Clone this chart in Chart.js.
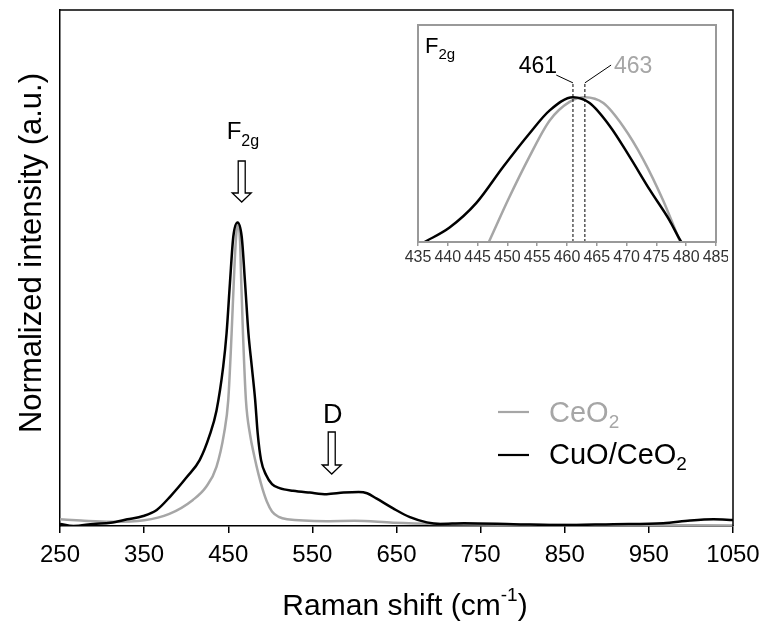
<!DOCTYPE html>
<html>
<head>
<meta charset="utf-8">
<script src="https://cdn.jsdelivr.net/npm/chart.js@4.4.0/dist/chart.umd.min.js"></script>
<style>
  body { margin: 0; background: #fff; }
  #wrap { position: relative; width: 762px; height: 621px; }
  #main { position: absolute; left: 0; top: 0; }
  #inset { position: absolute; left: 398px; top: 15px; }
</style>
</head>
<body>
<div id="wrap">
  <canvas id="main" width="762" height="621"></canvas>
  <canvas id="inset" width="330" height="260"></canvas>
</div>
<script>
const FONT = '"Liberation Sans", Arial, sans-serif';
const GREY = '#a6a6a6';

// full spectra, Raman shift (cm-1) vs normalized intensity
const shiftCuO = [250, 266, 290, 310, 330, 349, 365, 381, 401, 416, 428, 436, 444, 448, 452, 456, 461, 466, 470, 474, 478, 482, 485, 489, 495, 502, 511, 527, 547, 567, 587, 605, 615, 626, 646, 666, 686, 702, 730, 789, 848, 908, 967, 999, 1027, 1050];
const intCuO   = [0.007, 0.0, 0.007, 0.011, 0.022, 0.033, 0.053, 0.097, 0.162, 0.217, 0.30, 0.38, 0.525, 0.635, 0.80, 0.953, 1.0, 0.953, 0.80, 0.635, 0.525, 0.415, 0.305, 0.217, 0.168, 0.138, 0.125, 0.116, 0.11, 0.105, 0.11, 0.112, 0.108, 0.091, 0.058, 0.029, 0.012, 0.007, 0.009, 0.006, 0.003, 0.006, 0.009, 0.018, 0.022, 0.020];

const shiftCeO2 = [250, 275, 310, 350, 380, 408, 424, 436, 445, 450, 454, 456.5, 459, 461.5, 464, 465.5, 467.5, 471, 476, 481, 486, 491, 496, 502, 510, 520, 567, 600, 646, 702, 800, 900, 1050];
const intCeO2   = [0.022, 0.018, 0.014, 0.019, 0.04, 0.086, 0.13, 0.195, 0.305, 0.415, 0.635, 0.80, 0.94, 1.0, 0.94, 0.80, 0.635, 0.415, 0.30, 0.23, 0.17, 0.12, 0.08, 0.048, 0.03, 0.022, 0.016, 0.017, 0.011, 0.007, 0.004, 0.003, 0.002];

// F2g band, close-up
const zoomShiftCuO = [434, 436.1, 440.3, 444.8, 449.3, 453.7, 457.1, 461, 463.8, 467.2, 470.5, 473.9, 477.2, 478.9, 480.5];
const zoomIntCuO   = [-0.05, 0, 0.10, 0.27, 0.52, 0.75, 0.91, 1.0, 0.96, 0.80, 0.59, 0.36, 0.15, 0.02, -0.08];
const zoomShiftCeO2 = [446.2, 447, 450.1, 453.7, 457.1, 460.5, 463, 466.1, 469.4, 472.8, 476.1, 478.4, 479.3];
const zoomIntCeO2   = [-0.06, 0.01, 0.29, 0.59, 0.84, 0.97, 1.0, 0.96, 0.80, 0.57, 0.29, 0.06, -0.03];

const xTicks = [250, 350, 450, 550, 650, 750, 850, 950, 1050];
const peakCuO = 461;
const peakCeO2 = 463;
const arrowF2g = 466;
const arrowD = 573;

function pts(xs, ys) { return xs.map((x, i) => ({ x: x, y: ys[i] })); }

// draw a run of [text, size, dy] pieces left to right, returns end x
function runText(ctx, x, y, parts, color) {
  ctx.fillStyle = color;
  ctx.textAlign = 'left';
  ctx.textBaseline = 'alphabetic';
  parts.forEach(p => {
    ctx.font = p[1] + 'px ' + FONT;
    ctx.fillText(p[0], x, y + (p[2] || 0));
    x += ctx.measureText(p[0]).width;
  });
  return x;
}
function runWidth(ctx, parts) {
  let w = 0;
  parts.forEach(p => { ctx.font = p[1] + 'px ' + FONT; w += ctx.measureText(p[0]).width; });
  return w;
}

function hollowArrow(ctx, cx, top, neck, tip) {
  const sw = 3.5, hw = 9.5;
  ctx.beginPath();
  ctx.moveTo(cx - sw, top);
  ctx.lineTo(cx + sw, top);
  ctx.lineTo(cx + sw, neck);
  ctx.lineTo(cx + hw, neck);
  ctx.lineTo(cx, tip);
  ctx.lineTo(cx - hw, neck);
  ctx.lineTo(cx - sw, neck);
  ctx.closePath();
  ctx.fillStyle = '#fff';
  ctx.fill();
  ctx.strokeStyle = '#000';
  ctx.lineWidth = 1.3;
  ctx.stroke();
}

// keep the plot box fixed: no extra room for the end tick labels
function noEdgePadding(s) { s.paddingLeft = 0; s.paddingRight = 0; }

const mainDecor = {
  id: 'mainDecor',
  afterDraw(chart) {
    const ctx = chart.ctx, a = chart.chartArea, xs = chart.scales.x;
    ctx.save();
    // frame top and right
    ctx.strokeStyle = '#000';
    ctx.lineWidth = 1.5;
    ctx.beginPath();
    ctx.moveTo(a.left, a.top);
    ctx.lineTo(a.right, a.top);
    ctx.lineTo(a.right, a.bottom);
    ctx.stroke();

    // axis titles
    const xt = [['Raman shift (cm', 30], ['-1', 19, -14], [')', 30]];
    runText(ctx, 405 - runWidth(ctx, xt) / 2, 615, xt, '#000');

    ctx.translate(41, 253);
    ctx.rotate(-Math.PI / 2);
    ctx.font = '31px ' + FONT;
    ctx.fillStyle = '#000';
    ctx.textAlign = 'center';
    ctx.textBaseline = 'alphabetic';
    ctx.fillText('Normalized intensity (a.u.)', 0, 0);
    ctx.setTransform(1, 0, 0, 1, 0, 0);

    // band markers
    const fx = xs.getPixelForValue(arrowF2g);
    runText(ctx, fx - 15, 139, [['F', 24], ['2g', 16, 7]], '#000');
    hollowArrow(ctx, fx, 161, 193, 202);

    const dx = xs.getPixelForValue(arrowD);
    ctx.font = '27px ' + FONT;
    ctx.fillStyle = '#000';
    ctx.textAlign = 'center';
    ctx.fillText('D', dx + 1, 423);
    hollowArrow(ctx, dx, 432, 465, 474);

    // legend
    ctx.lineWidth = 2.2;
    ctx.strokeStyle = GREY;
    ctx.beginPath(); ctx.moveTo(498, 412); ctx.lineTo(529, 412); ctx.stroke();
    ctx.strokeStyle = '#000';
    ctx.beginPath(); ctx.moveTo(498, 455); ctx.lineTo(529, 455); ctx.stroke();
    runText(ctx, 549, 422, [['CeO', 29], ['2', 19, 6]], GREY);
    runText(ctx, 549, 464, [['CuO/CeO', 29], ['2', 19, 6]], '#000');
    ctx.restore();
  }
};

new Chart(document.getElementById('main'), {
  type: 'line',
  data: {
    datasets: [
      { label: 'CuO/CeO2', data: pts(shiftCuO, intCuO), borderColor: '#000', borderWidth: 2.5 },
      { label: 'CeO2', data: pts(shiftCeO2, intCeO2), borderColor: GREY, borderWidth: 2.5 }
    ]
  },
  options: {
    responsive: false,
    animation: false,
    devicePixelRatio: 1,
    layout: { padding: { left: 0, right: 29, top: 10, bottom: 0 } },
    elements: { point: { radius: 0 }, line: { cubicInterpolationMode: 'monotone', fill: false } },
    plugins: { legend: { display: false }, tooltip: { enabled: false } },
    scales: {
      x: {
        type: 'linear', min: 250, max: 1050,
        afterBuildTicks: s => { s.ticks = xTicks.map(v => ({ value: v })); },
        afterFit: s => { s.height = 95; noEdgePadding(s); },
        ticks: { color: '#000', font: { family: FONT, size: 24 }, padding: 8, maxRotation: 0, callback: v => String(v) },
        grid: { drawOnChartArea: false, drawTicks: true, tickLength: 7, color: '#000', lineWidth: 1.5 },
        border: { display: true, color: '#000', width: 1.5 }
      },
      y: {
        min: 0, max: 1.7,
        afterFit: s => { s.width = 60; },
        ticks: { display: false },
        grid: { display: false },
        border: { display: true, color: '#000', width: 1.5 }
      }
    }
  },
  plugins: [mainDecor]
});

const insetDecor = {
  id: 'insetDecor',
  afterDraw(chart) {
    const ctx = chart.ctx, a = chart.chartArea;
    ctx.save();
    ctx.strokeStyle = '#999';
    ctx.lineWidth = 2;
    ctx.strokeRect(a.left, a.top, a.right - a.left, a.bottom - a.top);
    runText(ctx, 27, 38, [['F', 22], ['2g', 15, 6]], '#000');
    ctx.font = '23px ' + FONT;
    ctx.textAlign = 'right';
    ctx.fillStyle = '#000';
    ctx.fillText(String(peakCuO), 159, 58);
    ctx.textAlign = 'left';
    ctx.fillStyle = GREY;
    ctx.fillText(String(peakCeO2), 216, 58);
    ctx.restore();
  }
};

const guide = { borderColor: '#000', borderWidth: 1, borderDash: [3, 2], tension: 0 };
const leader = { borderColor: '#000', borderWidth: 1, tension: 0 };

new Chart(document.getElementById('inset'), {
  type: 'line',
  data: {
    datasets: [
      Object.assign({ data: [{ x: peakCuO, y: 0 }, { x: peakCuO, y: 1.1 }] }, guide),
      Object.assign({ data: [{ x: peakCeO2, y: 0 }, { x: peakCeO2, y: 1.1 }] }, guide),
      Object.assign({ data: [{ x: peakCuO, y: 1.1 }, { x: 458.2, y: 1.154 }] }, leader),
      Object.assign({ data: [{ x: peakCeO2, y: 1.1 }, { x: 467.4, y: 1.223 }] }, leader),
      { label: 'CuO/CeO2', data: pts(zoomShiftCuO, zoomIntCuO), borderColor: '#000', borderWidth: 2.5, cubicInterpolationMode: 'monotone' },
      { label: 'CeO2', data: pts(zoomShiftCeO2, zoomIntCeO2), borderColor: GREY, borderWidth: 2.5, cubicInterpolationMode: 'monotone' }
    ]
  },
  options: {
    responsive: false,
    animation: false,
    devicePixelRatio: 1,
    layout: { padding: { left: 0, right: 12, top: 10, bottom: 0 } },
    elements: { point: { radius: 0 }, line: { fill: false } },
    plugins: { legend: { display: false }, tooltip: { enabled: false } },
    scales: {
      x: {
        type: 'linear', min: 435, max: 485,
        afterFit: s => { s.height = 33; noEdgePadding(s); },
        ticks: { stepSize: 5, color: '#333', font: { family: FONT, size: 16 }, padding: 2, maxRotation: 0, autoSkip: false, callback: v => String(v) },
        grid: { drawOnChartArea: false, drawTicks: true, tickLength: 4, color: '#999', lineWidth: 1.5 },
        border: { display: true, color: '#999', width: 2 }
      },
      y: {
        min: 0, max: 1.5,
        afterFit: s => { s.width = 20; },
        ticks: { display: false },
        grid: { display: false },
        border: { display: true, color: '#999', width: 2 }
      }
    }
  },
  plugins: [insetDecor]
});
</script>
</body>
</html>
